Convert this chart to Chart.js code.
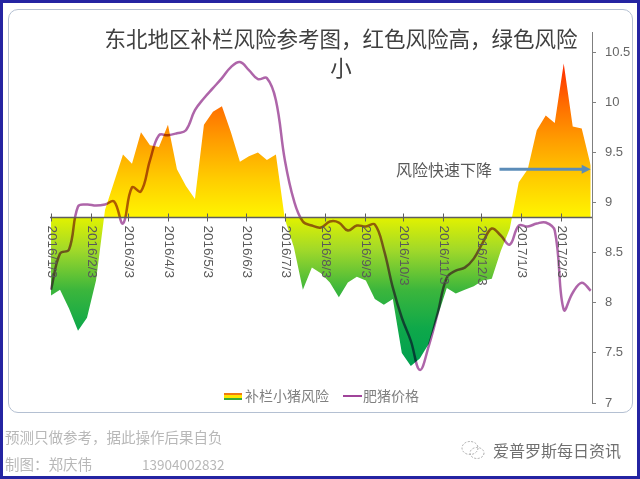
<!DOCTYPE html>
<html><head><meta charset="utf-8">
<script src="https://cdn.jsdelivr.net/npm/chart.js@4/dist/chart.umd.min.js"></script>
<style>
html,body{margin:0;padding:0;background:#fff;}
#wrap{position:relative;width:640px;height:479px;overflow:hidden;background:#fff;font-family:"Noto Sans CJK SC","Noto Sans",sans-serif;}
#frame{position:absolute;left:0;top:0;width:640px;height:479px;box-sizing:border-box;border:3px solid #2424a2;pointer-events:none;}
#card{position:absolute;left:8px;top:9px;width:625px;height:404px;box-sizing:border-box;border:1px solid #b4c0d2;border-radius:10px;}
canvas{position:absolute;left:0;top:0;}
.t{position:absolute;white-space:nowrap;}
</style></head>
<body>
<div id="wrap">
  <div id="card"></div>
  <canvas id="c" width="640" height="479"></canvas>
  <div class="t" id="title" style="left:91px;top:23px;width:500px;text-align:center;font-size:21.5px;line-height:29px;color:#404040;">东北地区补栏风险参考图，红色风险高，绿色风险<br>小</div>
  <div class="t" style="left:396px;top:159px;font-size:16px;line-height:20px;color:#595959;">风险快速下降</div>
  <div class="t" style="left:224px;top:393px;width:18px;height:7px;background:linear-gradient(#f07a10 0 34%,#ffe600 34% 66%,#3aaa3a 66%);"></div>
  <div class="t" style="left:245px;top:386px;font-size:14px;line-height:18px;color:#808080;">补栏小猪风险</div>
  <div class="t" style="left:343px;top:395px;width:19px;height:2px;background:#a0449a;"></div>
  <div class="t" style="left:363px;top:386px;font-size:14px;line-height:18px;color:#808080;">肥猪价格</div>
  <div class="t" style="left:5px;top:428px;font-size:14.5px;line-height:18px;color:#b8b8b8;">预测只做参考，据此操作后果自负</div>
  <div class="t" style="left:5px;top:455px;font-size:14.5px;line-height:18px;color:#b8b8b8;">制图：郑庆伟</div>
  <div class="t" style="left:142px;top:455px;font-size:13.5px;line-height:18px;color:#b8b8b8;">13904002832</div>
  <svg class="t" style="left:460px;top:439px;" width="26" height="22"><ellipse cx="10" cy="9" rx="8" ry="6.5" fill="none" stroke="#aaa" stroke-dasharray="2 1.5"/><ellipse cx="17" cy="14" rx="7" ry="5.5" fill="none" stroke="#aaa" stroke-dasharray="2 1.5"/></svg>
  <div class="t" style="left:493px;top:440px;font-size:16px;line-height:20px;color:#707070;">爱普罗斯每日资讯</div>
  <div id="frame"></div>
</div>
<script>
const dates = ['2016/1/3','2016/1/10','2016/1/17','2016/1/24','2016/1/31','2016/2/7','2016/2/14','2016/2/21','2016/2/28',
  '2016/3/6','2016/3/13','2016/3/20','2016/3/27','2016/4/3','2016/4/10','2016/4/17','2016/4/24',
  '2016/5/1','2016/5/8','2016/5/15','2016/5/22','2016/5/29','2016/6/5','2016/6/12','2016/6/19','2016/6/26',
  '2016/7/3','2016/7/10','2016/7/17','2016/7/24','2016/7/31','2016/8/7','2016/8/14','2016/8/21','2016/8/28',
  '2016/9/4','2016/9/11','2016/9/18','2016/9/25','2016/10/2','2016/10/9','2016/10/16','2016/10/23','2016/10/30',
  '2016/11/6','2016/11/13','2016/11/20','2016/11/27','2016/12/4','2016/12/11','2016/12/18','2016/12/25',
  '2017/1/1','2017/1/8','2017/1/15','2017/1/22','2017/1/29','2017/2/5','2017/2/12','2017/2/19','2017/2/26'];
const riskValues = [-42,-39,-49,-61,-54,-34,4,19,34,29,46,39,38,50,26,17,10,50,57,60,46,30,33,35,31,34,-1,-16,-39,-27,
  -30,-35,-43,-35,-32,-34,-44,-47,-44,-73,-80,-76,-68,-53,-38,-41,-39,-37,-34,-33,-18,-6,19,26,47,55,51,83,49,48,28];
const priceValues = [8.13,8.49,8.53,8.96,8.98,8.97,8.98,9.01,8.79,9.15,9.11,9.42,9.67,9.67,9.69,9.72,9.92,10.04,10.14,10.24,
  10.35,10.40,10.32,10.23,10.24,10.02,9.42,9.02,8.81,8.77,8.75,8.81,8.80,8.72,8.77,8.76,8.78,8.53,8.15,7.85,
  7.62,7.33,7.57,7.90,8.25,8.32,8.35,8.44,8.60,8.74,8.67,8.58,8.77,8.76,8.79,8.80,8.72,7.93,8.10,8.20,8.12];
const tickLabels = ['2016/1/3','2016/2/3','2016/3/3','2016/4/3','2016/5/3','2016/6/3','2016/7/3','2016/8/3',
  '2016/9/3','2016/10/3','2016/11/3','2016/12/3','2017/1/3','2017/2/3'];
const seriesNames = ['补栏小猪风险','肥猪价格'];
const arrowStart = ['2016/12/17', 9.33];
const arrowEnd = ['2017/2/26', 9.33];

function dayOf(s){ const p = s.split('/').map(Number); return (Date.UTC(p[0],p[1]-1,p[2]) - Date.UTC(2016,0,3)) / 86400000; }

const riskData = dates.map((d,i) => ({x: dayOf(d), y: riskValues[i]}));
const priceData = dates.map((d,i) => ({x: dayOf(d), y: priceValues[i]}));

function riskGradient(context){
  const chart = context.chart; const ca = chart.chartArea;
  if (!ca) return 'rgba(0,0,0,0)';
  const ys = chart.scales.y;
  const top = ys.getPixelForValue(100), bot = ys.getPixelForValue(-100);
  const g = chart.ctx.createLinearGradient(0, top, 0, bot);
  const f = v => (100 - v) / 200;
  g.addColorStop(0, '#ff1a00');
  g.addColorStop(f(83), '#ff2a00');
  g.addColorStop(f(62), '#ff6a00');
  g.addColorStop(f(42), '#ff9c00');
  g.addColorStop(f(21), '#ffcc00');
  g.addColorStop(f(0.01), '#fff500');
  g.addColorStop(f(-0.01), '#e2f200');
  g.addColorStop(f(-18), '#9fd82a');
  g.addColorStop(f(-39), '#3cb63c');
  g.addColorStop(f(-60), '#0ea84a');
  g.addColorStop(f(-80), '#00a050');
  g.addColorStop(1, '#00a050');
  return g;
}

const blendPlugin = {
  id: 'blend',
  beforeDatasetDraw(chart, args){ if (args.index === 1){ chart.ctx.save(); chart.ctx.globalCompositeOperation = 'multiply'; chart.ctx.globalAlpha = 0.8; } },
  afterDatasetDraw(chart, args){ if (args.index === 1){ chart.ctx.restore(); } }
};

const midAxisPlugin = {
  id: 'midAxis',
  afterDatasetsDraw(chart){
    const {ctx, chartArea, scales} = chart;
    const y0 = scales.y.getPixelForValue(0);
    ctx.save();
    ctx.strokeStyle = '#5e5e5e';
    ctx.lineWidth = 1.5;
    ctx.beginPath(); ctx.moveTo(chartArea.left, y0); ctx.lineTo(chartArea.right, y0); ctx.stroke();
    ctx.lineWidth = 1;
    tickLabels.forEach(lbl => {
      const x = Math.round(scales.x.getPixelForValue(dayOf(lbl))) + 0.5;
      ctx.beginPath(); ctx.moveTo(x, y0 - 4); ctx.lineTo(x, y0 + 4); ctx.stroke();
      ctx.save();
      ctx.translate(x, y0 + 8);
      ctx.rotate(Math.PI / 2);
      ctx.fillStyle = '#595959';
      ctx.font = '13.5px "Liberation Sans", Arial, sans-serif';
      ctx.textAlign = 'left'; ctx.textBaseline = 'middle';
      ctx.fillText(lbl, 0, 0);
      ctx.restore();
    });
    const ax1 = scales.x.getPixelForValue(dayOf(arrowStart[0]));
    const ax2 = scales.x.getPixelForValue(dayOf(arrowEnd[0]));
    const ay = scales.y1.getPixelForValue(arrowStart[1]);
    ctx.strokeStyle = '#5b8cb8'; ctx.fillStyle = '#5b8cb8'; ctx.lineWidth = 3;
    ctx.beginPath(); ctx.moveTo(ax1, ay); ctx.lineTo(ax2 - 7, ay); ctx.stroke();
    ctx.beginPath(); ctx.moveTo(ax2, ay); ctx.lineTo(ax2 - 9, ay - 4.5); ctx.lineTo(ax2 - 9, ay + 4.5); ctx.closePath(); ctx.fill();
    ctx.restore();
  }
};

new Chart(document.getElementById('c'), {
  type: 'line',
  data: {
    datasets: [
      { label: seriesNames[0], data: riskData, yAxisID: 'y', fill: 'origin', backgroundColor: riskGradient,
        borderWidth: 0, borderColor: 'rgba(0,0,0,0)', pointRadius: 0, tension: 0, order: 1 },
      { label: seriesNames[1], data: priceData, yAxisID: 'y1', fill: false, borderColor: '#9a3f93',
        borderWidth: 2.5, pointRadius: 0, tension: 0.4, order: 0 }
    ]
  },
  options: {
    responsive: false,
    animation: false,
    events: [],
    layout: { padding: { left: 50, top: 32, bottom: 76, right: 0 } },
    plugins: { legend: { display: false }, title: { display: false }, tooltip: { enabled: false } },
    scales: {
      x: { type: 'linear', min: -0.8, max: 421, display: false },
      y: { type: 'linear', min: -100, max: 100, display: false },
      y1: {
        type: 'linear', position: 'right', min: 7, max: 10.7,
        afterBuildTicks(scale){ scale.ticks = scale.ticks.filter(t => Math.abs(t.value * 2 - Math.round(t.value * 2)) < 1e-6); },
        afterFit(scale){ scale.width = 48; },
        grid: { drawOnChartArea: false, drawTicks: true, tickLength: 4, color: '#7f7f7f' },
        border: { display: true, color: '#7f7f7f', width: 1 },
        ticks: { stepSize: 0.5, padding: 9, color: '#666', font: { family: '"Liberation Sans", Arial, sans-serif', size: 13 },
          callback: v => String(v) }
      }
    }
  },
  plugins: [blendPlugin, midAxisPlugin]
});
</script>
</body></html>
